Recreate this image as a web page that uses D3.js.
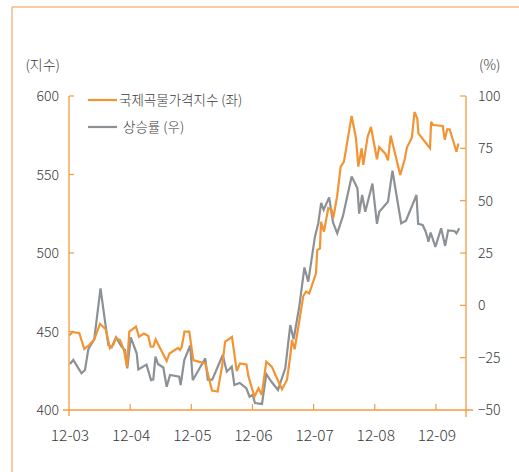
<!DOCTYPE html>
<html>
<head>
<meta charset="utf-8">
<script src="https://cdn.jsdelivr.net/npm/d3@7"></script>
<style>
  html, body { margin: 0; padding: 0; background: #fff; }
  svg { display: block; }
  text { font-family: "Noto Sans CJK KR", "Noto Sans", sans-serif; fill: #3a3a3a; font-weight: 300; }
</style>
</head>
<body>
<svg id="chart" width="519" height="472"></svg>
<script>
// ---- data (months since 2003-12 tick "12-03") ----
const xTickMonths = [0, 12, 24, 36, 48, 60, 72];
const xTickLabels = ["12-03", "12-04", "12-05", "12-06", "12-07", "12-08", "12-09"];
const leftTicks = [400, 450, 500, 550, 600];
const rightTicks = [-50, -25, 0, 25, 50, 75, 100];
const seriesNames = ["국제곡물가격지수 (좌)", "상승률 (우)"];

const priceMonths = [0.10,0.65,2.02,3.00,3.98,4.96,6.08,7.20,8.04,8.69,9.22,10.01,10.79,11.38,11.83,13.15,13.73,14.71,15.56,16.03,16.54,17.01,17.66,19.17,19.72,20.46,21.39,21.78,22.11,22.66,23.60,24.39,25.41,26.74,28.06,29.17,30.02,30.65,31.98,32.92,33.55,34.82,35.22,36.39,37.18,37.83,38.71,39.79,40.51,41.79,42.77,43.42,43.75,44.28,45.22,45.97,46.50,47.15,48.46,48.72,49.25,49.44,50.03,50.87,51.54,51.85,52.64,53.31,53.95,55.46,56.31,56.76,57.43,57.74,58.60,59.25,60.43,60.86,62.10,62.59,63.12,65.00,65.88,66.31,67.29,67.79,68.33,68.57,70.83,71.06,71.47,73.34,73.73,74.22,74.69,76.03,76.42];
const priceValues = [447.5,449.7,448.9,438.9,441.4,445.0,454.8,451.4,439.3,441.4,445.7,444.6,438.2,427.4,449.9,453.1,446.7,448.7,447.1,440.3,440.3,445.0,440.8,431.2,436.0,437.6,439.5,438.2,440.1,449.9,449.9,431.8,430.8,429.7,412.4,411.8,427.7,443.5,446.5,424.8,429.6,429.0,421.3,408.5,413.8,409.6,430.8,427.6,422.3,413.2,419.1,434.4,444.6,438.7,457.3,472.6,475.4,474.3,487.1,501.9,503.0,519.9,513.6,528.5,527.4,522.1,536.9,555.0,558.2,587.3,573.1,555.0,566.7,556.1,574.1,580.3,559.7,567.5,563.1,559.0,574.8,549.7,559.9,567.2,573.6,589.8,585.8,576.2,566.7,583.6,581.5,580.9,572.2,578.8,578.8,564.5,569.7];

const rateMonths = [0.20,0.84,2.45,3.14,3.79,4.96,6.18,7.71,8.38,9.22,10.34,10.99,11.44,12.11,13.28,13.60,15.21,16.09,16.54,16.97,17.46,18.50,19.17,19.82,21.62,21.91,22.62,23.78,24.29,26.74,27.23,28.11,30.17,30.96,31.94,32.45,33.51,34.79,35.43,36.04,36.49,37.87,38.71,39.73,41.00,42.44,43.42,44.08,45.18,46.20,46.95,48.26,48.91,49.48,49.97,51.05,51.80,52.64,53.76,55.46,56.60,56.94,57.52,58.13,59.54,60.43,60.88,62.59,63.47,65.18,66.12,68.18,68.51,69.39,69.94,70.30,70.53,70.96,71.90,73.02,73.81,74.40,75.63,76.03,76.58];
const rateValues = [-28.0,-26.1,-32.5,-30.9,-21.0,-16.2,8.1,-18.9,-20.0,-15.3,-19.8,-21.3,-30.1,-15.3,-22.9,-30.6,-28.3,-35.7,-35.4,-24.5,-28.0,-29.7,-38.9,-33.3,-34.1,-38.1,-26.1,-19.2,-35.8,-25.3,-35.5,-35.5,-23.7,-31.7,-29.3,-38.1,-37.1,-39.6,-43.6,-42.8,-46.7,-47.1,-32.8,-36.5,-40.4,-30.1,-9.4,-16.2,-0.6,18.1,11.3,32.8,39.2,48.9,45.6,51.6,39.6,34.4,42.7,61.5,55.9,43.8,52.7,44.7,58.2,38.9,44.7,49.5,64.3,39.2,40.4,52.7,38.9,38.4,35.5,32.8,30.4,34.8,27.9,36.8,28.4,35.8,35.5,34.4,36.8];

// ---- layout ----
const ORANGE = "#F39434";
const GRAY = "#8C9196";
const AXIS = "#F39A3E";
const FRAME = "#F8B985";
const plotL = 69, plotR = 466, plotT = 96, plotB = 410;

const svg = d3.select("#chart");

// frame
svg.append("line").attr("x1", 12).attr("x2", 12).attr("y1", 7).attr("y2", 472)
  .attr("stroke", FRAME).attr("stroke-width", 1.5);
svg.append("line").attr("x1", 12).attr("x2", 519).attr("y1", 7).attr("y2", 7)
  .attr("stroke", FRAME).attr("stroke-width", 1.5);

const x = d3.scaleLinear().domain([0, 77.9]).range([plotL, plotR]);
const yL = d3.scaleLinear().domain([400, 600]).range([plotB, plotT]);
const yR = d3.scaleLinear().domain([-50, 100]).range([plotB, plotT]);

// axes lines
svg.append("line").attr("x1", plotL).attr("x2", plotL).attr("y1", plotT).attr("y2", plotB + 6)
  .attr("stroke", AXIS).attr("stroke-width", 1.3);
svg.append("line").attr("x1", plotR).attr("x2", plotR).attr("y1", plotT).attr("y2", plotB + 7)
  .attr("stroke", AXIS).attr("stroke-width", 1.3);
svg.append("line").attr("x1", plotL - 6).attr("x2", plotR + 7).attr("y1", plotB).attr("y2", plotB)
  .attr("stroke", AXIS).attr("stroke-width", 1.3);

// left ticks
const gl = svg.append("g");
gl.selectAll("line").data(leftTicks.filter(d => d !== 400)).join("line")
  .attr("x1", plotL).attr("x2", plotL + 5)
  .attr("y1", d => yL(d)).attr("y2", d => yL(d))
  .attr("stroke", AXIS).attr("stroke-width", 1.2);
gl.selectAll("text").data(leftTicks).join("text")
  .attr("x", 59).attr("y", d => yL(d)).attr("dy", "0.36em")
  .attr("text-anchor", "end").attr("font-size", 14)
  .text(d => d);

// right ticks
const gr = svg.append("g");
gr.selectAll("line").data(rightTicks.filter(d => d !== -50)).join("line")
  .attr("x1", plotR - 6).attr("x2", plotR)
  .attr("y1", d => yR(d)).attr("y2", d => yR(d))
  .attr("stroke", AXIS).attr("stroke-width", 1.2);
gr.selectAll("text").data(rightTicks).join("text")
  .attr("x", 478).attr("y", d => yR(d)).attr("dy", "0.36em")
  .attr("text-anchor", "start").attr("font-size", 14)
  .text(d => d < 0 ? "\u2212" + Math.abs(d) : d);

// bottom ticks
const gb = svg.append("g");
gb.selectAll("line").data(xTickMonths.slice(1)).join("line")
  .attr("x1", d => x(d)).attr("x2", d => x(d))
  .attr("y1", plotB - 6).attr("y2", plotB)
  .attr("stroke", AXIS).attr("stroke-width", 1.2);
gb.selectAll("text").data(xTickMonths).join("text")
  .attr("x", d => x(d) + 1).attr("y", 441)
  .attr("text-anchor", "middle").attr("font-size", 15.5)
  .text((d, i) => xTickLabels[i]);

// axis titles
svg.append("text").attr("x", 60).attr("y", 65).attr("dy", "0.36em")
  .attr("text-anchor", "end").attr("font-size", 14).text("(지수)");
svg.append("text").attr("x", 479).attr("y", 65).attr("dy", "0.36em")
  .attr("text-anchor", "start").attr("font-size", 14).text("(%)");

// series
const priceData = priceMonths.map((m, i) => ({ m, v: priceValues[i] }));
const rateData = rateMonths.map((m, i) => ({ m, v: rateValues[i] }));

svg.append("path").datum(rateData)
  .attr("fill", "none").attr("stroke", GRAY).attr("stroke-width", 2.2)
  .attr("stroke-linejoin", "miter").attr("stroke-miterlimit", 3)
  .attr("d", d3.line().x(d => x(d.m)).y(d => yR(d.v)));
svg.append("path").datum(priceData)
  .attr("fill", "none").attr("stroke", ORANGE).attr("stroke-width", 2.2)
  .attr("stroke-linejoin", "miter").attr("stroke-miterlimit", 3)
  .attr("d", d3.line().x(d => x(d.m)).y(d => yL(d.v)));

// legend
const legendColors = [ORANGE, GRAY];
const legendTextX = [119, 123];
const lg = svg.append("g");
seriesNames.forEach((name, i) => {
  const ly = 100 + i * 27;
  lg.append("line").attr("x1", 88).attr("x2", 117).attr("y1", ly).attr("y2", ly)
    .attr("stroke", legendColors[i]).attr("stroke-width", 2.2);
  lg.append("text").attr("x", legendTextX[i]).attr("y", ly).attr("dy", "0.36em")
    .attr("font-size", 13.5).text(name);
});
</script>
</body>
</html>
